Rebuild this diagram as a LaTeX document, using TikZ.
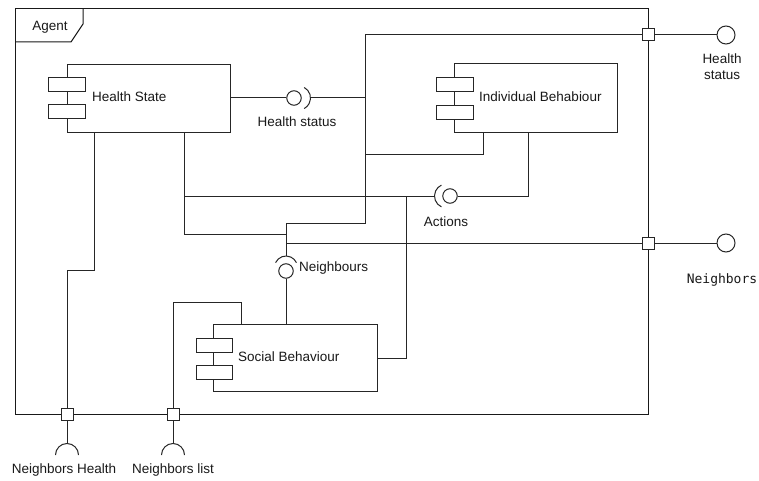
\documentclass[tikz,border=0pt]{standalone}
\usepackage{fontspec}
\setmainfont{Liberation Sans}
\newfontfamily\monofont{DejaVu Sans Mono}
\usetikzlibrary{calc}
\begin{document}
\begin{tikzpicture}[x=1pt,y=-1pt,
  wire/.style={draw=black!85,line width=1pt},
  comp/.style={draw=black!85,line width=1pt,fill=white,inner sep=0pt},
  subbox/.style={draw=black!85,line width=1pt,fill=white,inner sep=0pt,minimum width=37pt,minimum height=14pt},
  port/.style={draw=black!85,line width=1pt,fill=white,inner sep=0pt,minimum size=12pt},
  ball/.style={draw=black!85,line width=1pt,fill=white,circle,inner sep=0pt,minimum size=14.5pt},
  endball/.style={draw=black!85,line width=1pt,fill=white,circle,inner sep=0pt,minimum size=18pt},
  lbl/.style={inner sep=0pt,font=\fontsize{13.5}{16}\selectfont,text=black!90},
  mlbl/.style={inner sep=0pt,font=\monofont\fontsize{13}{16}\selectfont,text=black!90}]
\useasboundingbox (0,0) rectangle (759,481);

% Agent frame with its name tab
\draw[line width=1pt,black!90] (15,9) rectangle (648,414);
\draw[line width=1pt,black!90] (83,9) -- (83,24) -- (71,42) -- (15,42);
\node[lbl] (agent) at (50,27) {Agent};

% Components
\node[comp,minimum width=163pt,minimum height=68pt] (hs) at (148.5,99) {};
\node[subbox] (hs1) at (66.5,85) {};
\node[subbox] (hs2) at (66.5,112) {};
\node[lbl,anchor=west] (hst) at (92,97) {Health State};

\node[comp,minimum width=163pt,minimum height=69pt] (ib) at (535.5,98.5) {};
\node[subbox] (ib1) at (454.5,85) {};
\node[subbox] (ib2) at (454.5,112.5) {};
\node[lbl,anchor=west] (ibt) at (479,97) {Individual Behabiour};

\node[comp,minimum width=164pt,minimum height=67pt] (sb) at (295,357.5) {};
\node[subbox,minimum width=36pt] (sb1) at (214,345) {};
\node[subbox,minimum width=36pt] (sb2) at (214,372.5) {};
\node[lbl,anchor=west] (sbt) at (238,357) {Social Behaviour};

% Boundary ports
\coordinate (bus) at (365,35);
\coordinate (nbus) at (286,243);
\coordinate (hsdrop) at (94,270);
\coordinate (nlturn) at (173,302);
\coordinate (actjoin) at (406,196);
\node[port] (p1) at (648,35) {};
\node[port] (p2) at (648,243) {};
\node[port] (p3) at (67,414) {};
\node[port] (p4) at (173,414) {};

% Provided interfaces outside the frame
\node[endball] (o1) at (726,35) {};
\node[endball] (o2) at (726,243) {};
\node[lbl,align=center] (o1t) at (722,67) {Health\\status};
\node[mlbl] (o2t) at (722,280) {Neighbors};

% Internal assembly connectors (ball and socket)
\node[ball] (hsc) at (294,98) {};
\coordinate (hsa) at (298.5,98);
\node[ball] (acc) at (450,196) {};
\coordinate (aca) at (446.5,196);
\node[ball] (nbc) at (286,271) {};
\coordinate (nba) at (286,267.5);

\draw[wire] ($(hsa)+(-62:12)$) arc[start angle=-62,end angle=62,radius=12];
\draw[wire] ($(aca)+(115:12)$) arc[start angle=115,end angle=245,radius=12];
\draw[wire] ($(nba)+(205:11.5)$) arc[start angle=205,end angle=335,radius=11.5];

\node[lbl] (hsl) at (297,122) {Health status};
\node[lbl] (acl) at (446,222) {Actions};
\node[lbl,anchor=west] (nbl) at (299,268) {Neighbours};

% Required interfaces below the frame
\coordinate (s3) at (67,455);
\coordinate (s4) at (173,455);
\draw[wire] ($(s3)+(-11.5,0)$) arc[start angle=180,end angle=360,radius=11.5];
\draw[wire] ($(s4)+(-11.5,0)$) arc[start angle=180,end angle=360,radius=11.5];
\node[lbl] (s3t) at (64,470) {Neighbors Health};
\node[lbl] (s4t) at (173,470) {Neighbors list};

% Wiring
\draw[wire] (hs.east |- hsc) -- (hsc.west);
\draw[wire] (310.5,98) -- (hsc -| bus);
\draw[wire] (bus) -- (p1.west);
\draw[wire] (p1.east) -- (o1.west);
\draw[wire] (bus) -- (365,223) -- (286,223) -- (286,256);
\draw[wire] (ib.south -| 483,0) -- (483,155) -- (365,155);
\draw[wire] (ib.south -| 528,0) -- (528,196) -- (acc.east);
\draw[wire] (434.5,196) -- (184,196);
\draw[wire] (hs.south -| 184,0) -- (184,234) -- (286,234);
\draw[wire] (actjoin) -- (406,358) -- (sb.east |- 0,358);
\draw[wire] (nbus) -- (p2.west);
\draw[wire] (p2.east) -- (o2.west);
\draw[wire] (nbc.south) -- (sb.north -| nbc);
\draw[wire] (hs.south -| hsdrop) -- (hsdrop) -- (67,270) -- (p3.north);
\draw[wire] (p3.south) -- ($(s3)+(0,-11.5)$);
\draw[wire] (sb.north -| 241,0) -- (241,302) -- (nlturn) -- (p4.north);
\draw[wire] (p4.south) -- ($(s4)+(0,-11.5)$);

% Ports drawn on top of the frame edge
\node[port] at (p1) {};
\node[port] at (p2) {};
\node[port] at (p3) {};
\node[port] at (p4) {};
\end{tikzpicture}
\end{document}
